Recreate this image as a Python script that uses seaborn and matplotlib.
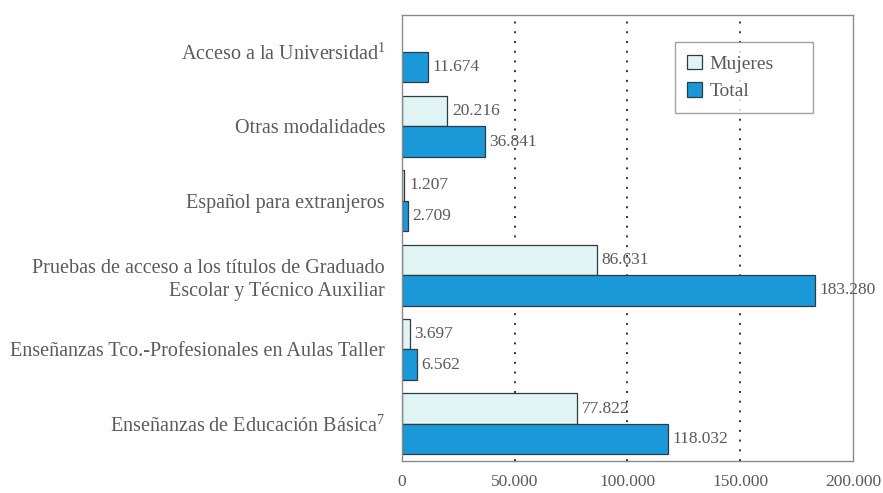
import numpy as np
import pandas as pd
import matplotlib
matplotlib.use("Agg")
import matplotlib.pyplot as plt
import seaborn as sns

categories = [
    "Acceso a la Universidad$^{1}$",
    "Otras modalidades",
    "Español para extranjeros",
    "Pruebas de acceso a los títulos de Graduado\nEscolar y Técnico Auxiliar",
    "Enseñanzas Tco.-Profesionales en Aulas Taller",
    "Enseñanzas de Educación Básica$^{7}$",
]
mujeres = [np.nan, 20216, 1207, 86631, 3697, 77822]
total = [11674, 36841, 2709, 183280, 6562, 118032]
series = ["Mujeres", "Total"]
x_ticks = [0, 50000, 100000, 150000, 200000]
x_tick_labels = ["0", "50.000", "100.000", "150.000", "200.000"]

sns.set_theme(style="white")
plt.rcParams["font.family"] = ["Liberation Serif", "DejaVu Serif"]
plt.rcParams["mathtext.fontset"] = "custom"
plt.rcParams["mathtext.rm"] = "Liberation Serif"
plt.rcParams["mathtext.it"] = "Liberation Serif"

text_color = "#5a5a5a"
palette = {"Mujeres": "#e0f4f4", "Total": "#1a98d8"}

df = pd.DataFrame({
    "categoria": categories * 2,
    "serie": [series[0]] * len(categories) + [series[1]] * len(categories),
    "valor": mujeres + total,
})

fig = plt.figure(figsize=(8.83, 4.93), dpi=100)
ax = fig.add_axes([0.455, 0.065, 0.511, 0.905])

sns.barplot(data=df, y="categoria", x="valor", hue="serie", hue_order=series,
            order=categories, palette=palette, orient="h", width=0.82,
            saturation=1, edgecolor="#2e3a44", linewidth=0.9, ax=ax,
            errorbar=None, legend=True)

ax.set_xlim(0, 200000)
ax.set_ylim(len(categories) - 0.5, -0.5)
ax.set_xlabel("")
ax.set_ylabel("")

for x in x_ticks[1:-1]:
    ax.axvline(x, color="#333333", linestyle=(0, (1, 4)), linewidth=1.4, zorder=0)

# value labels at the end of each bar
for container in ax.containers:
    for patch in container.patches:
        w = patch.get_width()
        if np.isnan(w) or w == 0:
            continue
        ax.text(w + 2000, patch.get_y() + patch.get_height() / 2,
                f"{int(w):,}".replace(",", "."), va="center", ha="left",
                fontsize=12.5, color=text_color)

ax.set_xticks(x_ticks)
ax.set_xticklabels(x_tick_labels, fontsize=12.5, color=text_color)
ax.tick_params(axis="x", direction="inout", length=7, color="#888888", pad=6)
ax.set_yticks(range(len(categories)))
ax.set_yticklabels(categories, fontsize=14.5, color=text_color, linespacing=1.3)
ax.tick_params(axis="y", length=0, pad=12)
ax.set_yticks(np.arange(-0.5, len(categories) + 0.5, 1), minor=True)
ax.tick_params(axis="y", which="minor", direction="inout", length=6, color="#888888")

for spine in ax.spines.values():
    spine.set_color("#8a8a8a")
    spine.set_linewidth(1.0)

leg = ax.legend(loc="upper left", bbox_to_anchor=(0.605, 0.939, 0.306, 0.0),
                mode="expand", frameon=True, fancybox=False, fontsize=14,
                handlelength=0.75, handleheight=0.75, handletextpad=0.4,
                borderpad=0.65, labelspacing=0.5, borderaxespad=0)
leg.get_frame().set_edgecolor("#8a8a8a")
leg.get_frame().set_linewidth(1.0)
for t in leg.get_texts():
    t.set_color(text_color)

fig.savefig("out.png", dpi=100, facecolor="white")
